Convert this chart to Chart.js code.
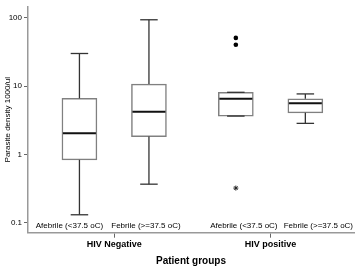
<!DOCTYPE html>
<html>
<head>
<meta charset="utf-8">
<script src="https://cdn.jsdelivr.net/npm/chart.js@4.4.1/dist/chart.umd.min.js"></script>
<style>
  html,body{margin:0;padding:0;background:#fff;}
  #wrap{position:relative;width:359px;height:268px;}
</style>
</head>
<body>
<div id="wrap"><canvas id="boxChart"></canvas></div>
<script>
// groups and subgroups
const groups = ['HIV Negative', 'HIV positive'];
const groupPos = [1.5, 3.75];
const subgroups = ['Afebrile (<37.5 oC)', 'Febrile (>=37.5 oC)', 'Afebrile (<37.5 oC)', 'Febrile (>=37.5 oC)'];
const xPos = [1, 2, 3.25, 4.25];

// box statistics, parasite density 1000/ul
const whiskerLow  = [0.13, 0.365, 3.63, 2.84];
const q1          = [0.83, 1.82, 3.63, 4.05];
const median      = [2.04, 4.19, 6.5, 5.59];
const q3          = [6.6, 10.7, 8.1, 6.5];
const whiskerHigh = [30, 93.6, 8.1, 7.67];

// outliers (circles) and extremes (stars)
const outlierBox   = [2, 2];
const outlierValue = [50.8, 40.4];
const extremeBox   = [2];
const extremeValue = [0.32];

const yTicks = [0.1, 1, 10, 100];

const FONT = "'Liberation Sans', Arial, sans-serif";

const boxExtras = {
  id: 'boxExtras',
  afterDatasetsDraw(chart) {
    const {ctx, scales:{x, y}} = chart;
    const bars = chart.getDatasetMeta(0).data;
    const line = (x1, y1, x2, y2) => {
      ctx.beginPath(); ctx.moveTo(x1, y1); ctx.lineTo(x2, y2); ctx.stroke();
    };
    ctx.save();
    xPos.forEach((p, i) => {
      const cx = x.getPixelForValue(p);
      const half = bars[i].width / 2;
      const cap = half / 2;
      ctx.strokeStyle = '#333';
      ctx.lineWidth = 1.3;
      line(cx, y.getPixelForValue(q3[i]), cx, y.getPixelForValue(whiskerHigh[i]));
      line(cx, y.getPixelForValue(q1[i]), cx, y.getPixelForValue(whiskerLow[i]));
      line(cx - cap, y.getPixelForValue(whiskerHigh[i]), cx + cap, y.getPixelForValue(whiskerHigh[i]));
      line(cx - cap, y.getPixelForValue(whiskerLow[i]), cx + cap, y.getPixelForValue(whiskerLow[i]));
      ctx.strokeStyle = '#111';
      ctx.lineWidth = 2;
      const my = y.getPixelForValue(median[i]);
      line(cx - half + 1, my, cx + half - 1, my);
    });
    ctx.restore();
  },
  afterDraw(chart, args, opts) {
    const {ctx, chartArea, scales:{x}} = chart;
    ctx.save();
    ctx.font = '8px ' + FONT;
    ctx.fillStyle = '#000';
    ctx.textAlign = 'center';
    ctx.textBaseline = 'middle';
    subgroups.forEach((s, i) => {
      ctx.fillText(s, x.getPixelForValue(xPos[i]) + opts.shift[i], chartArea.bottom - 7);
    });
    ctx.restore();
  }
};

new Chart(document.getElementById('boxChart'), {
  type: 'bar',
  data: {
    datasets: [
      {
        type: 'bar',
        data: xPos.map((p, i) => ({x: p, y: [q1[i], q3[i]]})),
        backgroundColor: '#fff',
        borderColor: '#808080',
        borderWidth: 1.5,
        borderSkipped: false,
        barThickness: 35,
        order: 2
      },
      {
        type: 'scatter',
        data: outlierBox.map((b, i) => ({x: xPos[b], y: outlierValue[i]})),
        pointStyle: 'circle',
        pointRadius: 2.3,
        backgroundColor: '#000',
        borderColor: '#000',
        borderWidth: 0,
        order: 1
      },
      {
        type: 'scatter',
        data: extremeBox.map((b, i) => ({x: xPos[b], y: extremeValue[i]})),
        pointStyle: 'star',
        pointRadius: 2.5,
        borderColor: '#222',
        borderWidth: 1,
        order: 1
      }
    ]
  },
  options: {
    responsive: true,
    maintainAspectRatio: false,
    animation: false,
    layout: {padding: {top: 2, right: 5, left: 0, bottom: 0}},
    plugins: {
      legend: {display: false},
      tooltip: {enabled: false},
      boxExtras: {shift: [-10, -3, 8, 13]}
    },
    scales: {
      x: {
        type: 'linear',
        offset: false,
        min: 0.26,
        max: 4.95,
        afterBuildTicks: s => { s.ticks = groupPos.map(v => ({value: v})); },
        afterFit: s => { s.height = 35.3; },
        ticks: {
          autoSkip: false,
          maxRotation: 0,
          padding: 1,
          color: '#000',
          font: {family: FONT, size: 9, weight: 'bold'},
          callback: (v, i) => groups[i]
        },
        grid: {offset: false, drawOnChartArea: false, drawTicks: true, tickLength: 5, color: '#666', lineWidth: 1},
        border: {color: '#999', width: 1.5},
        title: {
          display: true,
          text: 'Patient groups',
          color: '#000',
          font: {family: FONT, size: 10, weight: 'bold'},
          padding: {top: 0, bottom: 1}
        }
      },
      y: {
        type: 'logarithmic',
        min: 0.071,
        max: 145,
        afterBuildTicks: s => { s.ticks = yTicks.map(v => ({value: v})); },
        afterFit: s => { s.width = 28; },
        ticks: {
          padding: 2,
          color: '#000',
          font: {family: FONT, size: 8},
          callback: v => String(v)
        },
        grid: {drawOnChartArea: false, drawTicks: true, tickLength: 4, color: '#666', lineWidth: 1},
        border: {color: '#999', width: 1.5},
        title: {
          display: true,
          text: 'Parasite density 1000/ul',
          color: '#000',
          font: {family: FONT, size: 8},
          padding: {top: 3, bottom: 0}
        }
      }
    }
  },
  plugins: [boxExtras]
});
</script>
</body>
</html>
